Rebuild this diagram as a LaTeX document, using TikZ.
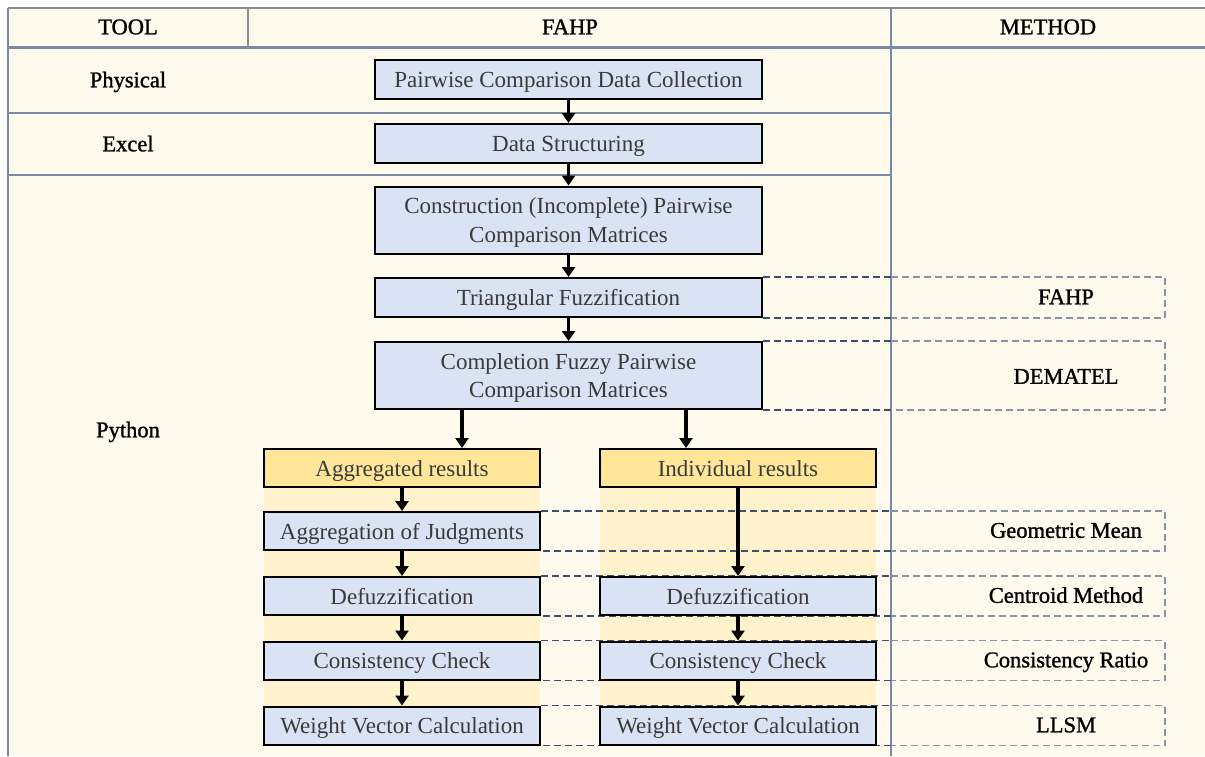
\documentclass[tikz,border=0pt]{standalone}
\usepackage{fontspec}
\setmainfont{Liberation Serif}
\newfontfamily\semibold[FakeBold=1.2]{Liberation Serif}
\usetikzlibrary{arrows.meta}
\definecolor{cream}{HTML}{FFFAEE}
\definecolor{colbg}{HTML}{FFF2CC}
\definecolor{boxblue}{HTML}{DAE3F3}
\definecolor{boxyellow}{HTML}{FFE699}
\definecolor{gridblue}{HTML}{7A8AA6}
\definecolor{gridgray}{HTML}{8C8C8C}
\definecolor{dashdark}{HTML}{3E4E6C}
\definecolor{dashlight}{HTML}{8A93A3}
\definecolor{boxtext}{HTML}{3A3A3A}
\tikzset{
  stepbox/.style={draw=black, line width=2pt, fill=boxblue, minimum width=387pt,
    minimum height=39pt, inner sep=0pt},
  tallbox/.style={stepbox, minimum height=67pt},
  colbox/.style={stepbox, minimum width=276pt, minimum height=38pt},
  resbox/.style={colbox, fill=boxyellow},
  btext/.style={inner sep=0pt, text=boxtext, align=center,
    font=\fontsize{23}{27}\selectfont,
    execute at begin node=\strut, execute at end node=\strut},
  btexttwo/.style={btext, font=\fontsize{23}{28.5}\selectfont},
  lbl/.style={inner sep=0pt, text=black, font=\semibold\fontsize{22.5}{24}\selectfont,
    execute at begin node=\strut},
  arr/.style={line width=3.2pt, -{Triangle[width=13pt,length=10pt]}},
  dashL/.style={draw=dashdark, line width=1.1pt, dash pattern=on 7pt off 4pt},
  dashR/.style={draw=dashlight, line width=1.1pt, dash pattern=on 7pt off 4pt},
}
\begin{document}
\begin{tikzpicture}[x=1pt,y=-1pt]
\useasboundingbox (0,0) rectangle (1205,756);
\fill[white] (0,0) rectangle (1205,756);
\fill[cream] (8,8) rectangle (1205,756);
\fill[colbg] (264,487) rectangle (540,745);
\fill[colbg] (600,487) rectangle (876,745);
% grid
\draw[gridblue, line width=1.5pt] (8,8) -- (8,756);
\draw[gridgray, line width=1.5pt] (8,8) -- (1205,8);
\draw[gridblue, line width=2.5pt] (8,47.5) -- (1205,47.5);
\draw[gridgray, line width=1.2pt] (248,8) -- (248,47);
\draw[gridblue, line width=1.5pt] (891,8) -- (891,756);
\draw[gridblue, line width=1.2pt] (8,113) -- (891,113);
\draw[gridblue, line width=1.2pt] (8,175) -- (891,175);
% header and tool labels
\node[lbl] (hTool) at (128,29.5) {TOOL};
\node[lbl] (hFahp) at (570,29.5) {FAHP};
\node[lbl] (hMethod) at (1048,29.5) {METHOD};
\node[lbl] (tPhys) at (128,82.5) {Physical};
\node[lbl] (tExcel) at (128,146.5) {Excel};
\node[lbl] (tPython) at (128,432.5) {Python};
% reference coordinates
\coordinate (dv) at (891,0);
\coordinate (mx) at (1165,0);
\coordinate (aL) at (462,0);
\coordinate (aR) at (686,0);
% boxes (shapes)
\node[stepbox, fill=none, draw=none] (b1) at (568.5,79.5) {};
\node[stepbox, fill=none, draw=none] (b2) at (568.5,143.5) {};
\node[tallbox, fill=none, draw=none] (b3) at (568.5,220) {};
\node[stepbox, fill=none, draw=none] (b4) at (568.5,297.5) {};
\node[tallbox, fill=none, draw=none] (b5) at (568.5,375.5) {};
\node[colbox, fill=none, draw=none] (l1) at (402,531) {};
\node[colbox, fill=none, draw=none] (l2) at (402,596) {};
\node[colbox, fill=none, draw=none] (l3) at (402,660.5) {};
\node[colbox, fill=none, draw=none] (l4) at (402,725.5) {};
% method dashed frames
\foreach \b in {b4,b5,l1,l2,l3,l4}{
  \draw[dashL] (\b.north east) -- (\b.north east -| dv);
  \draw[dashR] (\b.north east -| dv) -- (\b.north east -| mx) -- (\b.south east -| mx) -- (\b.south east -| dv);
  \draw[dashL] (\b.south east -| dv) -- (\b.south east);
}
% method labels
\node[lbl] (mFahp) at (1066,299.5) {FAHP};
\node[lbl] (mDem) at (1066,379) {DEMATEL};
\node[lbl] (mGeo) at (1066,533) {Geometric Mean};
\node[lbl] (mCen) at (1066,598) {Centroid Method};
\node[lbl] (mCR) at (1066,662.5) {Consistency Ratio};
\node[lbl] (mLLSM) at (1066,727.5) {LLSM};
% visible boxes
\node[stepbox] (B1) at (b1) {};
\node[stepbox] (B2) at (b2) {};
\node[tallbox] (B3) at (b3) {};
\node[stepbox] (B4) at (b4) {};
\node[tallbox] (B5) at (b5) {};
\node[resbox] (agg) at (402,468) {};
\node[resbox] (ind) at (738,468) {};
\node[colbox] (L1) at (l1) {};
\node[colbox] (L2) at (l2) {};
\node[colbox] (L3) at (l3) {};
\node[colbox] (L4) at (l4) {};
\node[colbox] (R2) at (738,596) {};
\node[colbox] (R3) at (738,660.5) {};
\node[colbox] (R4) at (738,725.5) {};
% box texts
\node[btext] (B1t) at ([yshift=-3pt]B1.center) {Pairwise Comparison Data Collection};
\node[btext] (B2t) at ([yshift=-3pt]B2.center) {Data Structuring};
\node[btexttwo] (B3t) at ([yshift=-4.5pt]B3.center) {Construction (Incomplete) Pairwise\\Comparison Matrices};
\node[btext] (B4t) at ([yshift=-3pt]B4.center) {Triangular Fuzzification};
\node[btexttwo] (B5t) at ([yshift=-4.5pt]B5.center) {Completion Fuzzy Pairwise\\Comparison Matrices};
\node[btext] (aggt) at ([yshift=-3pt]agg.center) {Aggregated results};
\node[btext] (indt) at ([yshift=-3pt]ind.center) {Individual results};
\node[btext] (L1t) at ([yshift=-3pt]L1.center) {Aggregation of Judgments};
\node[btext] (L2t) at ([yshift=-3pt]L2.center) {Defuzzification};
\node[btext] (L3t) at ([yshift=-3pt]L3.center) {Consistency Check};
\node[btext] (L4t) at ([yshift=-3pt]L4.center) {Weight Vector Calculation};
\node[btext] (R2t) at ([yshift=-3pt]R2.center) {Defuzzification};
\node[btext] (R3t) at ([yshift=-3pt]R3.center) {Consistency Check};
\node[btext] (R4t) at ([yshift=-3pt]R4.center) {Weight Vector Calculation};
% arrows
\draw[arr] (B1) -- (B2);
\draw[arr] (B2) -- (B3);
\draw[arr] (B3) -- (B4);
\draw[arr] (B4) -- (B5);
\draw[arr] (B5.south -| aL) -- (agg.north -| aL);
\draw[arr] (B5.south -| aR) -- (ind.north -| aR);
\draw[arr] (agg) -- (L1);
\draw[arr] (L1) -- (L2);
\draw[arr] (L2) -- (L3);
\draw[arr] (L3) -- (L4);
\draw[arr] (ind) -- (R2);
\draw[arr] (R2) -- (R3);
\draw[arr] (R3) -- (R4);
\end{tikzpicture}
\end{document}
